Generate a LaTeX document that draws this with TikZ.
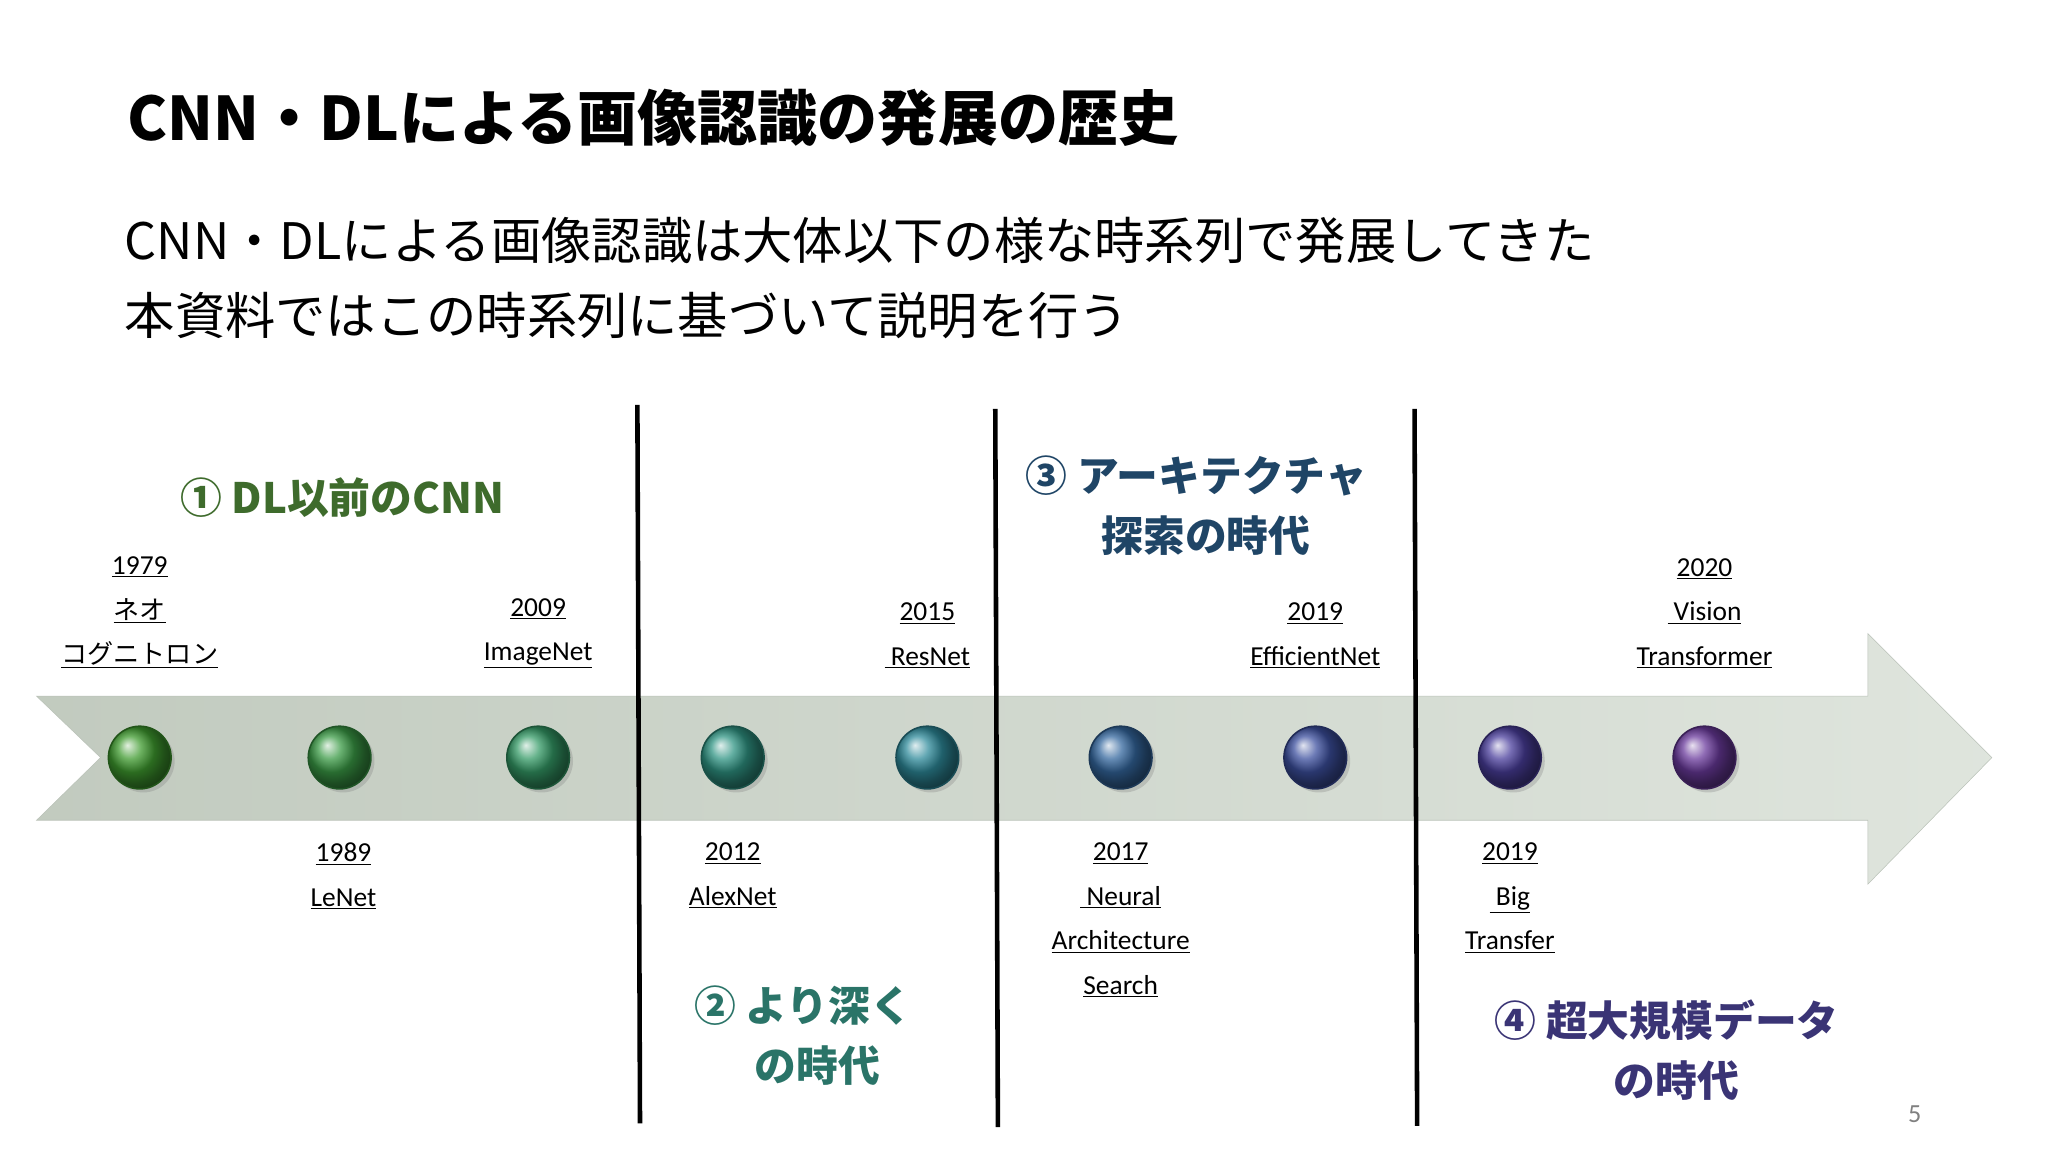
\documentclass[tikz,border=0pt]{standalone}
\usepackage{fontspec}
\setmainfont{Noto Sans CJK JP}
\newfontfamily\lab{Carlito}
\newfontfamily\jp{Noto Sans CJK JP}
\usetikzlibrary{shadows}
\definecolor{bandc}{HTML}{C9D3C6}
\definecolor{eraA}{HTML}{3E6B2C}
\definecolor{eraB}{HTML}{2A7468}
\definecolor{eraC}{HTML}{1F4566}
\definecolor{eraD}{HTML}{3A3475}
\definecolor{c1}{HTML}{3E9A2E}
\definecolor{c2}{HTML}{3A9A45}
\definecolor{c3}{HTML}{349A66}
\definecolor{c4}{HTML}{2F9483}
\definecolor{c5}{HTML}{2E8A9A}
\definecolor{c6}{HTML}{34679E}
\definecolor{c7}{HTML}{3C4F9E}
\definecolor{c8}{HTML}{4A3E9C}
\definecolor{c9}{HTML}{6A3A9C}
\tikzset{
  yr/.style={font=\lab\fontsize{21}{34}\selectfont, align=center, text=black},
  era/.style={font=\bfseries\fontsize{32}{46}\selectfont, align=center},
  sep/.style={line width=3.5pt, black},
  dot/.style={circle, minimum size=48pt, inner sep=0pt, draw=#1!55!black, line width=1.2pt, ball color=#1, drop shadow={opacity=0.3}}
}
\newcommand{\ul}[1]{\underline{#1}}
\begin{document}
\begin{tikzpicture}[x=1pt,y=-1pt]
\useasboundingbox (0,0) rectangle (1568,882);
\fill[white] (0,0) rectangle (1568,882);
\node[anchor=west, font=\fontsize{46}{52}\selectfont] (title) at (94,90) {\textbf{CNN・DLによる画像認識の発展の歴史}};
\node[anchor=north west, font=\fontsize{38.5}{57}\selectfont, align=left] (sub) at (92,163) {CNN・DLによる画像認識は大体以下の様な時系列で発展してきた\\本資料ではこの時系列に基づいて説明を行う};
% band
\shade[left color=bandc!90!gray, right color=bandc!60!white, draw=bandc!80!gray] (28,533) -- (1430,533) -- (1430,485) -- (1525,580) -- (1430,677) -- (1430,628) -- (28,628) -- (77,580) -- cycle;
% dots
\foreach \x/\c/\n in {107/c1/d1, 260/c2/d2, 412/c3/d3, 561/c4/d4, 710/c5/d5, 858/c6/d6, 1007/c7/d7, 1156/c8/d8, 1305/c9/d9}
  \node[dot=\c] (\n) at (\x,580) {};
% separators
\draw[sep] (488,310) -- (490,860);
\draw[sep] (762,313) -- (764,863);
\draw[sep] (1083,313) -- (1085,862);
% labels above
\node[yr, anchor=south] (l1) at (107,515) {\ul{1979}\\\ul{\jp\fontsize{20}{34}\selectfont ネオ}\\\ul{\jp\fontsize{20}{34}\selectfont コグニトロン}};
\node[yr, anchor=south] (l3) at (412,515) {\ul{2009}\\\ul{ImageNet}};
\node[yr, anchor=south] (l5) at (710,515) {\ul{2015}\\\ul{\ ResNet}};
\node[yr, anchor=south] (l7) at (1007,515) {\ul{2019}\\\ul{EfficientNet}};
\node[yr, anchor=south] (l9) at (1305,515) {\ul{2020}\\\ul{\ Vision}\\\ul{Transformer}};
% labels below
\node[yr, anchor=north] (l2) at (263,642) {\ul{1989}\\\ul{LeNet}};
\node[yr, anchor=north] (l4) at (561,642) {\ul{2012}\\\ul{AlexNet}};
\node[yr, anchor=north] (l6) at (858,642) {\ul{2017}\\\ul{\ Neural}\\\ul{Architecture}\\\ul{Search}};
\node[yr, anchor=north] (l8) at (1156,642) {\ul{2019}\\\ul{\ Big}\\\ul{Transfer}};
% eras
\node[era, text=eraA] (e1) at (262,381) {① DL以前のCNN};
\node[era, text=eraB] (e2) at (615,793) {② より深く\\\ \ \ の時代};
\node[era, text=eraC] (e3) at (916,387) {③ アーキテクチャ\\\ \ 探索の時代};
\node[era, text=eraD] (e4) at (1276,804) {④ 超大規模データ\\\ \ の時代};
\node[font=\lab\fontsize{20}{24}\selectfont, text=gray] (pg) at (1466,853) {5};
\end{tikzpicture}
\end{document}
